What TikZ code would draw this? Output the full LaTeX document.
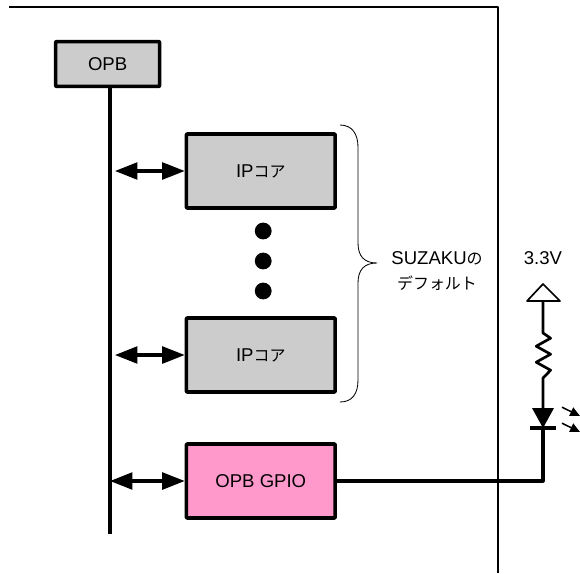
\documentclass[tikz,border=0pt]{standalone}
\usepackage{fontspec}
\setmainfont{Liberation Sans}
\newfontfamily\cjk[Scale=0.86]{Noto Sans CJK JP}
\usetikzlibrary{arrows.meta}
\definecolor{ink}{HTML}{000000}
\definecolor{core}{HTML}{CCCCCC}
\definecolor{gpio}{HTML}{FF99CC}

\begin{document}
\begin{tikzpicture}[font=\fontsize{13.2}{18}\selectfont,text=ink,line join=round,
    blockbox/.style={draw=ink,line width=2.5pt,rounded corners=0.5pt,fill=core,
      minimum width=3.72cm,minimum height=1.85cm,inner sep=0pt},
    wire/.style={draw=ink,line width=2.2pt},
    busarrow/.style={wire,{Triangle[length=16pt,width=12pt]}-{Triangle[length=16pt,width=12pt]}},
    glow/.style={draw=ink,line width=1.1pt,-{Triangle[length=7pt,width=6.5pt]}}]
  \useasboundingbox (0,0) rectangle (14.5,-14.325);
  \def\busx{2.75}
  \def\ledx{13.575}

  \draw[ink,line width=1pt] (0.225,-0.175) -- (12.45,-0.175) -- (12.45,-14.325);

  \node[blockbox,minimum width=2.6cm,minimum height=1.12cm] (opb) at (2.69,-1.6) {OPB};
  \node[blockbox] (ipa) at (6.52,-4.275) {IP{\cjk コア}};
  \node[blockbox] (ipb) at (6.52,-8.875) {IP{\cjk コア}};
  \node[blockbox,fill=gpio] (opbgpio) at (6.52,-12.025) {OPB GPIO};

  \coordinate (busend) at (\busx,-13.35);
  \draw[wire] (opb.south-|busend) -- (busend);

  \coordinate (tapa) at (\busx+0.125,-4.275);
  \coordinate (tapb) at (\busx+0.125,-8.875);
  \coordinate (tapc) at (\busx,-12.025);
  \draw[busarrow] (tapa) -- (ipa.west);
  \draw[busarrow] (tapb) -- (ipb.west);
  \draw[busarrow] (tapc) -- (opbgpio.west);

  \foreach \doty in {-5.775,-6.525,-7.275}
    \fill[ink] (6.58,\doty) circle (0.21);

  \draw[ink,line width=0.6pt] (8.5,-3.125)
    .. controls (8.8,-3.125) and (8.95,-3.35) .. (8.95,-3.675) -- (8.95,-6.075)
    .. controls (8.95,-6.4) and (9.1,-6.575) .. (9.425,-6.575)
    .. controls (9.1,-6.575) and (8.95,-6.75) .. (8.95,-7.075) -- (8.95,-9.5)
    .. controls (8.95,-9.85) and (8.8,-10.05) .. (8.5,-10.05);
  \node[align=center] (deflabel) at (10.925,-6.78) {SUZAKU{\cjk の}\\{\cjk デフォルト}};

  \node (vcclabel) at (\ledx,-6.45) {3.3V};
  \draw[ink,line width=1.2pt] (\ledx,-7.1) -- (13.175,-7.525) -- (14,-7.525) -- cycle;

  \coordinate (restop) at (\ledx,-8.325);
  \coordinate (resend) at (\ledx,-9.45);
  \draw[wire,line width=1.9pt] (\ledx,-7.55) -- (restop)
    -- ++(0.19,-0.13) -- ++(-0.36,-0.2) -- ++(0.36,-0.2) -- ++(-0.36,-0.2)
    -- ++(0.36,-0.2) -- (resend) -- (\ledx,-10.2);

  \fill[ink] (13.3,-10.2) -- (13.85,-10.2) -- (\ledx,-10.7) -- cycle;
  \draw[ink,line width=3pt] (13.25,-10.7) -- (13.9,-10.7);

  \coordinate (junction) at (\ledx,-12.025);
  \draw[wire] (opbgpio.east) -- (junction) -- (\ledx,-10.7);

  \draw[glow] (14.05,-10.18) -- (14.5,-10.4);
  \draw[glow] (14.05,-10.58) -- (14.5,-10.8);
\end{tikzpicture}
\end{document}
